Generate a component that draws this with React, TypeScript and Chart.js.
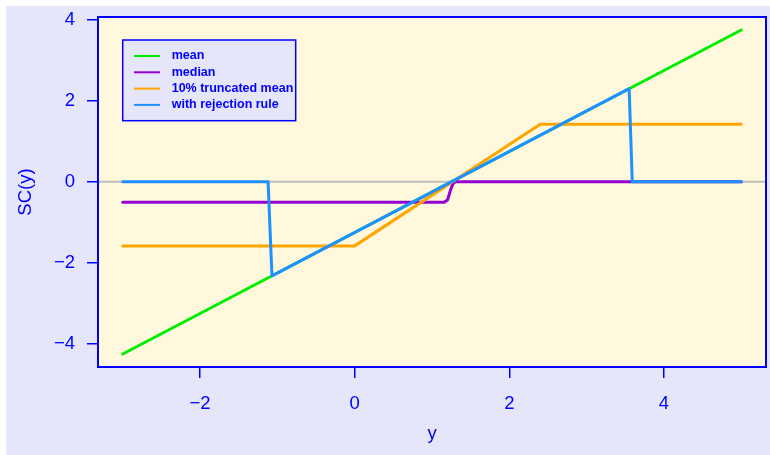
import React, { useEffect, useRef } from "react";
import { Chart, registerables } from "chart.js";
Chart.register(...registerables);

const xTicks = [-2, 0, 2, 4];
const yTicks = [-4, -2, 0, 2, 4];
const xRange = [-3.32, 5.32];
const yRange = [-4.57, 4.07];

const meanX = [-3, 5];
const meanY = [-4.25, 3.75];
const medianX = [-3, 1.16, 1.2, 1.24, 1.27, 1.3, 5];
const medianY = [-0.5, -0.5, -0.45, -0.2, -0.05, 0, 0];
const truncX = [-3, 0, 2.4, 5];
const truncY = [-1.58, -1.58, 1.42, 1.42];
const rejX = [-3, -1.12, -1.07, 3.55, 3.59, 5];
const rejY = [0, 0, -2.32, 2.3, 0, 0];
const refX = [-3.32, 5.32];
const refY = [0, 0];

const seriesLabels = ["mean", "median", "10% truncated mean", "with rejection rule"];
const seriesColors = ["#00ee00", "#9400d3", "#ffa500", "#1e90ff"];
const refColor = "#bebebe";
const axisColor = "#0000ff";
const outerBg = "#e6e6fa";
const plotBg = "#fff8dc";
const FONT = "'Liberation Sans', Arial, Helvetica, sans-serif";

const pts = (xs: number[], ys: number[]) => xs.map((x, i) => ({ x, y: ys[i] }));
const fmt = (v: number) => (v < 0 ? "\u2212" + Math.abs(v) : String(v));

const bgPlugin = {
  id: "bgPlugin",
  beforeDraw(chart: any) {
    const { ctx, chartArea: a, width, height } = chart;
    ctx.save();
    ctx.fillStyle = outerBg;
    ctx.fillRect(0, 0, width, height);
    ctx.fillStyle = plotBg;
    ctx.fillRect(a.left, a.top, a.right - a.left, a.bottom - a.top);
    ctx.restore();
  },
  afterDraw(chart: any) {
    const { ctx, chartArea: a } = chart;
    ctx.save();
    ctx.strokeStyle = axisColor;
    ctx.lineWidth = 2;
    ctx.strokeRect(a.left, a.top, a.right - a.left, a.bottom - a.top);
    // legend
    const bx = 116.7, by = 34, bw = 173, bh = 80.7;
    ctx.fillStyle = outerBg;
    ctx.fillRect(bx, by, bw, bh);
    ctx.lineWidth = 1.5;
    ctx.strokeRect(bx, by, bw, bh);
    ctx.font = `bold 12.5px ${FONT}`;
    ctx.textBaseline = "middle";
    ctx.textAlign = "left";
    seriesLabels.forEach((lab, i) => {
      const y = 50 + i * 16.3;
      ctx.strokeStyle = seriesColors[i];
      ctx.lineWidth = 2;
      ctx.beginPath();
      ctx.moveTo(128, y);
      ctx.lineTo(154, y);
      ctx.stroke();
      ctx.fillStyle = axisColor;
      ctx.fillText(lab, 165.7, y);
    });
    ctx.restore();
  },
};

const zeroPad = (s: any) => {
  s.paddingTop = 0;
  s.paddingBottom = 0;
  s.paddingLeft = 0;
  s.paddingRight = 0;
};

export default function App() {
  const ref = useRef<HTMLCanvasElement>(null);
  useEffect(() => {
    if (!ref.current) return;
    const mk = (xs: number[], ys: number[], color: string, order: number, w = 3) => ({
      data: pts(xs, ys),
      showLine: true,
      borderColor: color,
      backgroundColor: color,
      borderWidth: w,
      pointRadius: 0,
      borderCapStyle: "round",
      borderJoinStyle: "round",
      order,
    });
    const chart = new Chart(ref.current, {
      type: "scatter",
      data: {
        datasets: [
          mk(meanX, meanY, seriesColors[0], 4),
          mk(medianX, medianY, seriesColors[1], 3),
          mk(truncX, truncY, seriesColors[2], 2),
          mk(rejX, rejY, seriesColors[3], 1),
          mk(refX, refY, refColor, 5, 2),
        ] as any,
      },
      options: {
        animation: false,
        responsive: false,
        layout: { padding: { top: 11, right: 4, left: 0, bottom: 0 } },
        plugins: { legend: { display: false }, tooltip: { enabled: false } },
        scales: {
          x: {
            type: "linear",
            min: xRange[0],
            max: xRange[1],
            afterBuildTicks: (s: any) => {
              s.ticks = xTicks.map((v) => ({ value: v }));
            },
            afterFit: (s: any) => {
              s.height = 88;
              zeroPad(s);
            },
            grid: { display: true, drawOnChartArea: false, drawTicks: true, tickLength: 11, color: axisColor, lineWidth: 1.5 },
            border: { display: false },
            ticks: { color: axisColor, padding: 15, font: { size: 18.5, family: FONT }, callback: (v: any) => fmt(Number(v)) },
            title: { display: true, text: "y", color: axisColor, font: { size: 18.5, family: FONT }, padding: { top: 0, bottom: 10 } },
          },
          y: {
            type: "linear",
            min: yRange[0],
            max: yRange[1],
            afterBuildTicks: (s: any) => {
              s.ticks = yTicks.map((v) => ({ value: v }));
            },
            afterFit: (s: any) => {
              s.width = 92;
              zeroPad(s);
            },
            grid: { display: true, drawOnChartArea: false, drawTicks: true, tickLength: 11, color: axisColor, lineWidth: 1.5 },
            border: { display: false },
            ticks: { color: axisColor, padding: 12, font: { size: 18.5, family: FONT }, callback: (v: any) => fmt(Number(v)) },
            title: { display: true, text: "SC(y)", color: axisColor, font: { size: 18.5, family: FONT }, padding: { top: 9, bottom: 0 } },
          },
        },
      } as any,
      plugins: [bgPlugin],
    });
    return () => chart.destroy();
  }, []);
  return (
    <div style={{ position: "absolute", left: 6, top: 6, width: 764, height: 449 }}>
      <canvas ref={ref} width={764} height={449} style={{ width: 764, height: 449, display: "block" }} />
    </div>
  );
}
